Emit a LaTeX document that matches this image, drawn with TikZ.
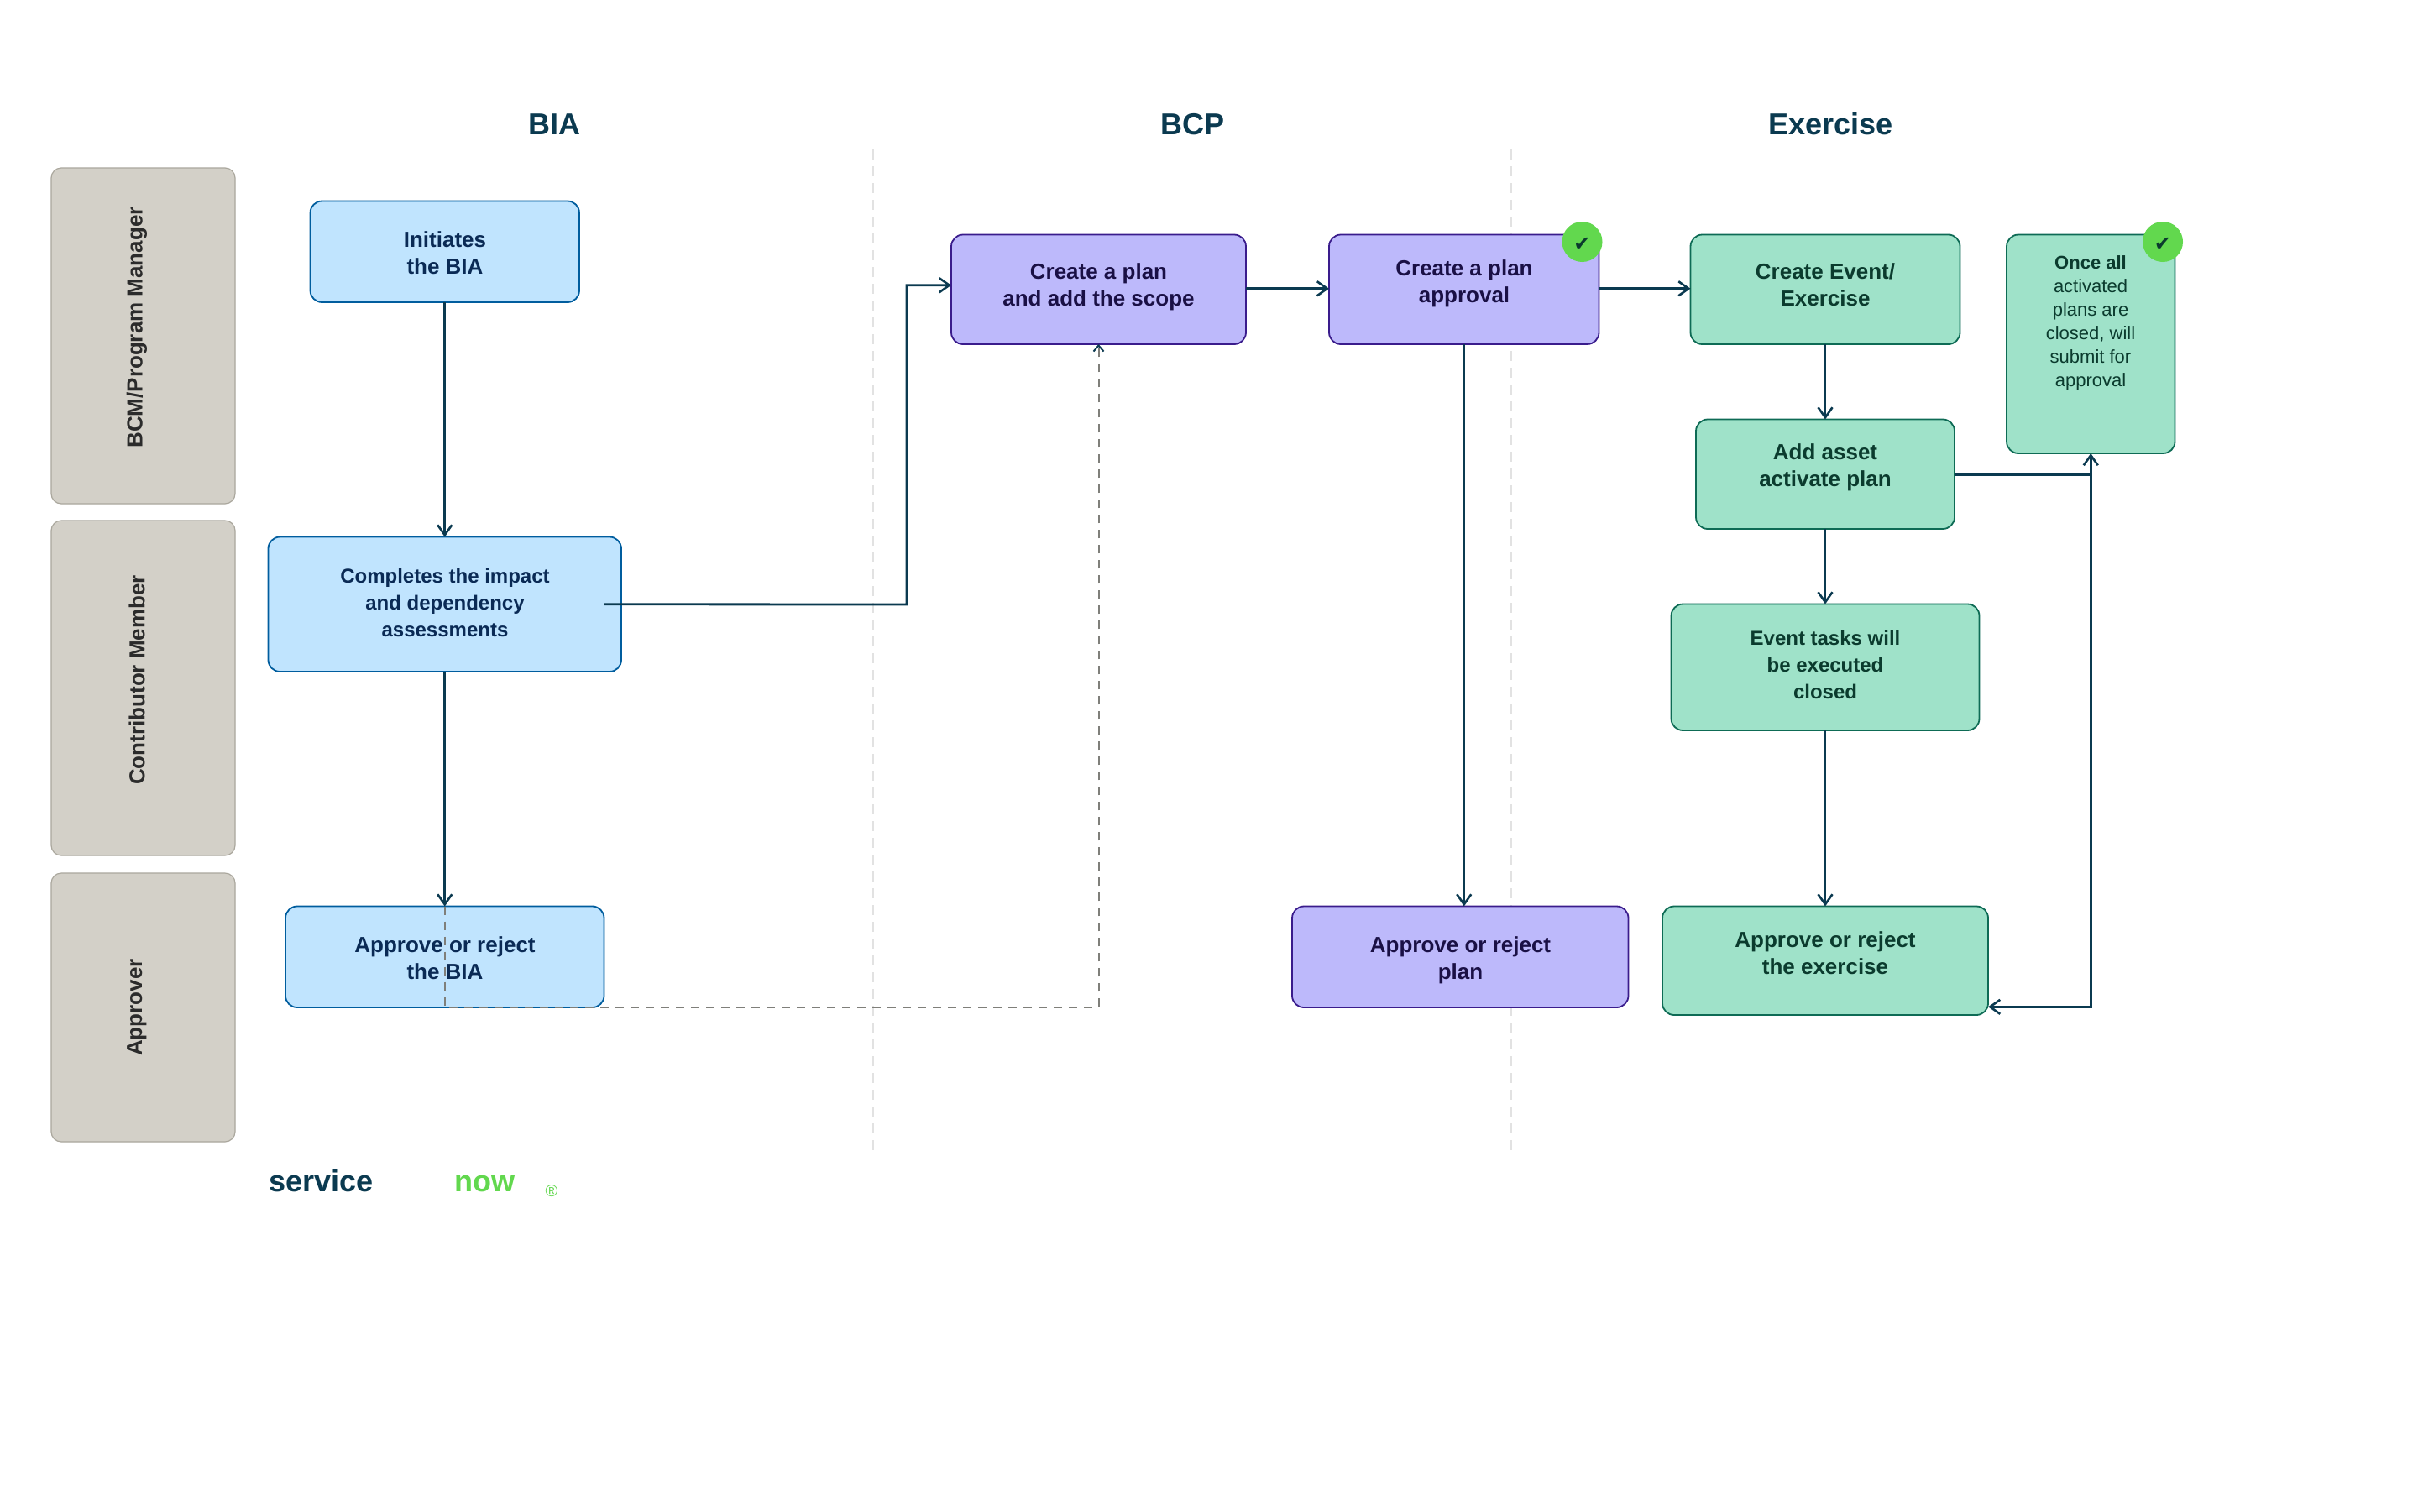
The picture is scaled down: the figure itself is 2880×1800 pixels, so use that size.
\documentclass[tikz,border=0pt]{standalone}
\usepackage{fontspec}
\setmainfont{Liberation Sans}
\newfontfamily\dejavu{DejaVu Sans}
\usetikzlibrary{arrows.meta}
\definecolor{ink}{HTML}{0B3A50}
\definecolor{bluefill}{HTML}{C0E4FE}
\definecolor{blueline}{HTML}{005D9E}
\definecolor{bluetext}{HTML}{0A2A55}
\definecolor{purpfill}{HTML}{BDB9FB}
\definecolor{purpline}{HTML}{3A1C8C}
\definecolor{purptext}{HTML}{1A1045}
\definecolor{greenfill}{HTML}{9FE2C9}
\definecolor{greenline}{HTML}{0E6B55}
\definecolor{greentext}{HTML}{0B3B2E}
\definecolor{lanefill}{HTML}{D3D0C8}
\definecolor{laneline}{HTML}{AAA79D}
\definecolor{lanetext}{HTML}{2B2B2B}
\definecolor{okgreen}{HTML}{62D84E}
\definecolor{nowgreen}{HTML}{62D84E}
\definecolor{dashgrey}{HTML}{7F7F7A}
\definecolor{divgrey}{HTML}{E2E2E2}
\newcommand{\pbox}[6]{%
  \pgfmathsetmacro{\bw}{(#4-#2)*0.5}\pgfmathsetmacro{\bh}{(#5-#3)*0.5}%
  \pgfmathsetmacro{\bx}{(#2+#4)/2}\pgfmathsetmacro{\by}{(#3+#5)/2}%
  \node[#6,minimum width=\bw pt,minimum height=\bh pt] (#1) at (\bx,\by) {};}
\tikzset{
  x=0.5pt,y=-0.5pt,
  barb/.tip={Straight Barb[length=6pt,width=8.5pt,line width=1.3pt]},
  pbase/.style={draw,rounded corners=7pt,inner sep=0pt,outer sep=0pt,line width=0.9pt},
  bluebox/.style={pbase,fill=bluefill,draw=blueline},
  purpbox/.style={pbase,fill=purpfill,draw=purpline},
  greenbox/.style={pbase,fill=greenfill,draw=greenline},
  lanebox/.style={draw=laneline,fill=lanefill,rounded corners=6pt,inner sep=0pt,outer sep=0pt,line width=0.6pt},
  lanelabel/.style={rotate=90,text=lanetext,font=\fontsize{13}{16}\selectfont\bfseries,inner sep=0pt},
  btext/.style={align=center,inner sep=0pt,font=\fontsize{13}{16}\selectfont\bfseries},
  stext/.style={align=center,inner sep=0pt,font=\fontsize{12}{16}\selectfont\bfseries},
  title/.style={inner sep=0pt,text=ink,font=\fontsize{18}{20}\selectfont\bfseries},
  flow/.style={draw=ink,line width=1.4pt,-barb},
  flowplain/.style={draw=ink,line width=1.4pt},
  dashflow/.style={draw=dashgrey,line width=1pt,dash pattern=on 5pt off 4pt,-{Straight Barb[length=3.5pt,width=6pt,line width=1pt,color=ink]}},
  divider/.style={draw=divgrey,line width=1pt,dash pattern=on 6pt off 4pt},
  okcircle/.style={circle,fill=okgreen,minimum size=24pt,inner sep=0pt,outer sep=0pt},
  oktick/.style={inner sep=0pt,text=greentext,font=\dejavu\fontsize{12}{12}\selectfont},
}
\begin{document}
\begin{tikzpicture}
\useasboundingbox[fill=white] (0,0) rectangle (2880,1800);

% dividers
\coordinate (d1a) at (1040,178); \coordinate (d1b) at (1040,1372);
\coordinate (d2a) at (1800,178); \coordinate (d2b) at (1800,1372);
\draw[divider] (d1a) -- (d1b);
\draw[divider] (d2a) -- (d2b);

% titles
\node[title] (tbia) at (660.5,148) {BIA};
\node[title] (tbcp) at (1420.5,148) {BCP};
\node[title] (tex) at (2180.5,148) {Exercise};

% lanes
\pbox{lane1}{61}{200}{280}{600}{lanebox}
\pbox{lane2}{61}{620}{280}{1019}{lanebox}
\pbox{lane3}{61}{1040}{280}{1360}{lanebox}
\node[lanelabel] (l1) at (163,390) {BCM/Program Manager};
\node[lanelabel] (l2) at (163,810) {Contributor Member};
\node[lanelabel] (l3) at (163,1200) {Approver};

% boxes
\pbox{init}{369.5}{239.5}{690}{360}{bluebox}
\pbox{comp}{319.5}{639.5}{740}{800}{bluebox}
\pbox{appbia}{340}{1079.5}{719.5}{1200}{bluebox}
\pbox{plan}{1133}{279.5}{1484}{410}{purpbox}
\pbox{appr}{1583}{279.5}{1904.5}{410}{purpbox}
\pbox{appplan}{1539}{1079.5}{1939.5}{1200}{purpbox}
\pbox{event}{2013.5}{279.5}{2334.5}{410}{greenbox}
\pbox{add}{2020}{499.5}{2328}{630}{greenbox}
\pbox{tasks}{1990.5}{719.5}{2357.5}{870}{greenbox}
\pbox{appex}{1980}{1079.5}{2368}{1209}{greenbox}
\pbox{once}{2390}{279.5}{2590.5}{540}{greenbox}

% connectors
\coordinate (t1) at (1080,720);
\draw[flow] (init.south) -- (comp.north);
\draw[flow] (comp.south) -- (appbia.north);
\draw[flow] ([xshift=-10pt]comp.east) -- (t1) |- ([yshift=2.5pt]plan.west);
\draw[flow] ([yshift=.5pt]plan.east) -- ([yshift=.5pt]appr.west);
\draw[flow] ([yshift=.5pt]appr.east) -- ([yshift=.5pt]event.west);
\draw[flow] (appr.south) -- (appr.south |- appplan.north);
\draw[flow] (event.south) -- (add.north);
\draw[flow] (add.south) -- (tasks.north);
\draw[flow] (tasks.south) -- (appex.north);
\draw[flowplain] ([yshift=-.5pt]add.east) -- ([yshift=-.5pt]add.east -| once.south);
\draw[flow,barb-barb] ([yshift=4.85pt]appex.south east) -| (once.south);
\draw[dashflow] (appbia.north) -- (appbia.south) -| (plan.south);

% box texts
\node[btext,text=bluetext] (init t) at (530,301) {Initiates\\the BIA};
\node[stext,text=bluetext] (comp t) at (530,718) {Completes the impact\\and dependency\\assessments};
\node[btext,text=bluetext] (appbia t) at (530,1141) {Approve or reject\\the BIA};
\node[btext,text=purptext] (plan t) at (1308.5,342) {Create a plan\\and add the scope};
\node[btext,text=purptext] (appr t) at (1744,338) {Create a plan\\approval};
\node[btext,text=purptext] (appplan t) at (1739.5,1144) {Approve or reject\\plan};
\node[btext,text=greentext] (event t) at (2174,339) {Create Event/\\Exercise};
\node[btext,text=greentext] (add t) at (2174,557) {Add asset\\activate plan};
\node[stext,text=greentext] (tasks t) at (2174,791.5) {Event tasks will\\be executed\\closed};
\node[btext,text=greentext] (appex t) at (2174,1135) {Approve or reject\\the exercise};
\node[align=center,inner sep=0pt,text=greentext,font=\fontsize{11}{14}\selectfont] (once t) at (2490,385) {\textbf{Once all}\\activated\\plans are\\closed, will\\submit for\\approval};

% check badges
\node[okcircle] (ok1) at (1884.5,288) {};
\node[okcircle] (ok2) at (2576,288) {};
\node[oktick] (tick1) at (1884.5,291) {✔};
\node[oktick] (tick2) at (2576,291) {✔};

% logo
\node[anchor=base west,inner sep=0pt,text=ink,font=\fontsize{18}{20}\selectfont\bfseries] (svc) at (320,1419) {service};
\node[anchor=base west,inner sep=0pt,text=nowgreen,font=\fontsize{18}{20}\selectfont\bfseries] (now) at (541,1419) {now};
\node[anchor=base,inner sep=0pt,text=nowgreen,font=\fontsize{10}{12}\selectfont] (reg) at (657,1425) {®};
\end{tikzpicture}
\end{document}
